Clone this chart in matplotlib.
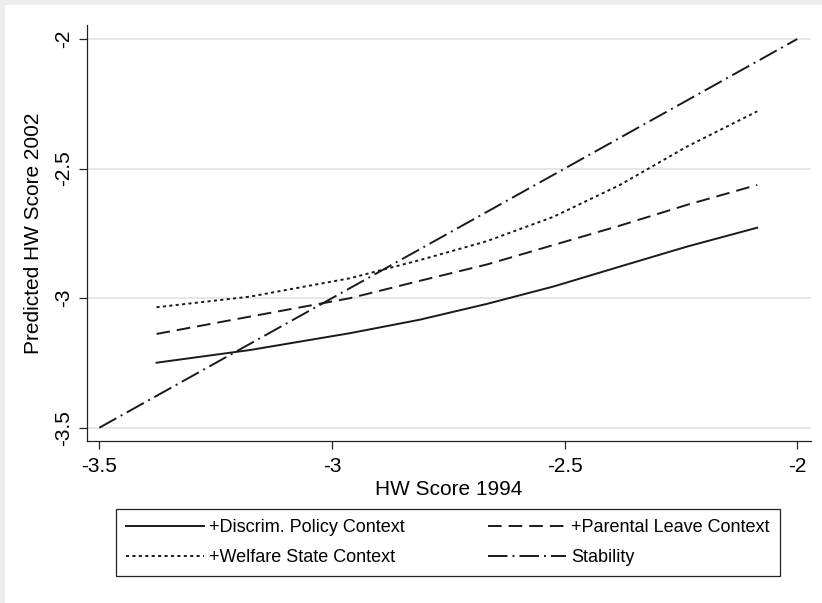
import matplotlib.pyplot as plt
import matplotlib.patches as patches

plt.rcParams['font.family'] = ['Liberation Sans', 'DejaVu Sans']
plt.rcParams['axes.unicode_minus'] = False

# values
x_model = [-3.377, -3.176, -2.961, -2.811, -2.667, -2.524, -2.381, -2.237, -2.086]
discrim = [-3.249, -3.200, -3.135, -3.083, -3.022, -2.955, -2.878, -2.801, -2.728]
parental = [-3.138, -3.071, -3.000, -2.933, -2.870, -2.795, -2.720, -2.640, -2.563]
welfare = [-3.035, -2.994, -2.923, -2.853, -2.780, -2.686, -2.563, -2.415, -2.279]
x_stab = [-3.5, -2.0]
stability = [-3.5, -2.0]

ticks = [-3.5, -3, -2.5, -2]
tick_labels = ['-3.5', '-3', '-2.5', '-2']

fig = plt.figure(figsize=(8.22, 6.03), dpi=100, facecolor='#eeeeee')
fig.patches.append(patches.Rectangle((4.5 / 822, 0), 1, 1 - 4.5 / 603,
                                     transform=fig.transFigure,
                                     facecolor='white', edgecolor='none', zorder=-10))

ax = fig.add_axes([0.1055, 0.2687, 0.8808, 0.6898])
ax.set_facecolor('white')

lw = 1.4
col = '#1a1a1a'
l1, = ax.plot(x_model, discrim, color=col, lw=lw, linestyle='-',
              label='+Discrim. Policy Context')
l2, = ax.plot(x_model, parental, color=col, lw=lw, linestyle=(0, (7, 3.6)),
              label='+Parental Leave Context')
l3, = ax.plot(x_model, welfare, color=col, lw=lw, linestyle=(0, (1.6, 1.7)),
              label='+Welfare State Context')
l4, = ax.plot(x_stab, stability, color=col, lw=lw,
              linestyle=(0, (10, 2.6, 1.0, 2.6)), label='Stability')

ax.set_xlim(-3.527, -1.971)
ax.set_ylim(-3.551, -1.946)
ax.set_xticks(ticks)
ax.set_xticklabels(tick_labels)
ax.set_yticks(ticks)
ax.set_yticklabels(tick_labels, rotation=90, va='center')

ax.grid(axis='y', color='#e6e6e6', lw=1.4)
ax.set_axisbelow(True)
for s in ['top', 'right']:
    ax.spines[s].set_visible(False)
for s in ['left', 'bottom']:
    ax.spines[s].set_color('#222222')
    ax.spines[s].set_linewidth(0.9)

ax.tick_params(axis='both', direction='out', length=6, width=0.9,
               color='#222222', labelsize=15)
ax.tick_params(axis='x', pad=5.5)
ax.tick_params(axis='y', pad=4)

ax.set_xlabel('HW Score 1994', fontsize=15, labelpad=3)
ax.set_ylabel('Predicted HW Score 2002', fontsize=15, labelpad=8)

leg = ax.legend([l1, l3, l2, l4],
                [l1.get_label(), l3.get_label(), l2.get_label(), l4.get_label()],
                ncol=2, loc='upper left',
                bbox_to_anchor=(116.4 / 822, 1 - 509 / 603, 663.4 / 822, 0.0),
                bbox_transform=fig.transFigure, mode='expand',
                fontsize=13, frameon=True, fancybox=False, framealpha=1,
                edgecolor='#222222', handlelength=4.3, handletextpad=0.3,
                borderpad=0.55, labelspacing=0.75, columnspacing=3.5,
                borderaxespad=0)
leg.get_frame().set_linewidth(0.9)

fig.savefig('out.png', dpi=100, facecolor=fig.get_facecolor())
